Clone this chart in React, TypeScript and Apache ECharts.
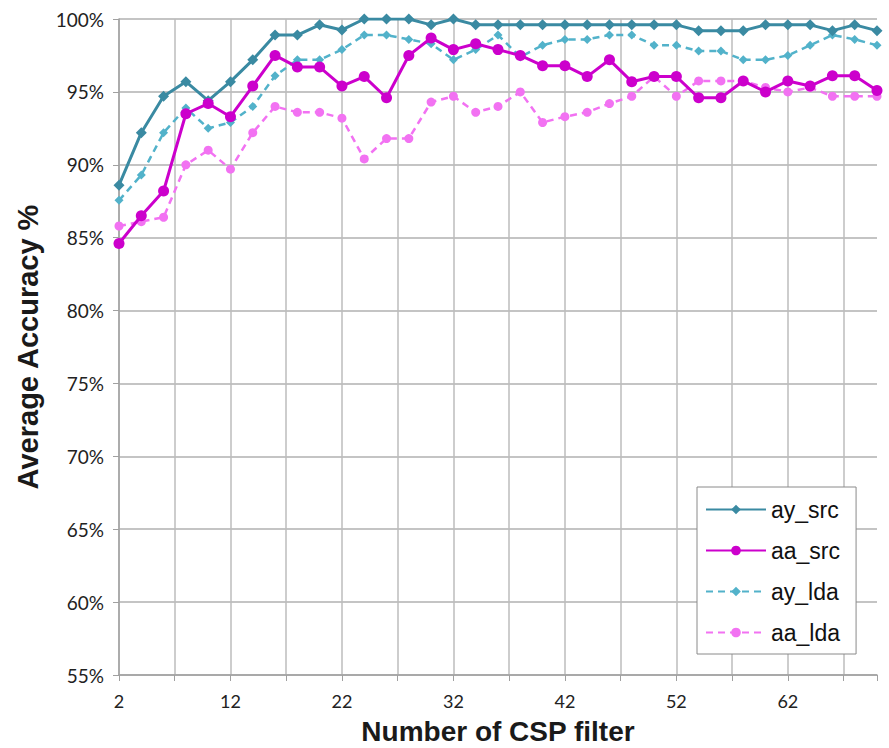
import React, { useEffect, useRef } from "react";
import * as echarts from "echarts";

const filters = [2, 4, 6, 8, 10, 12, 14, 16, 18, 20, 22, 24, 26, 28, 30, 32, 34, 36, 38, 40, 42, 44, 46, 48, 50, 52, 54, 56, 58, 60, 62, 64, 66, 68, 70];

const aySrc = [88.6, 92.2, 94.7, 95.7, 94.4, 95.7, 97.2, 98.9, 98.9, 99.6, 99.25, 100, 100, 100, 99.6, 100, 99.6, 99.6, 99.6, 99.6, 99.6, 99.6, 99.6, 99.6, 99.6, 99.6, 99.2, 99.2, 99.2, 99.6, 99.6, 99.6, 99.2, 99.6, 99.2];
const aaSrc = [84.6, 86.5, 88.2, 93.5, 94.2, 93.3, 95.4, 97.5, 96.7, 96.7, 95.4, 96.05, 94.6, 97.5, 98.7, 97.9, 98.3, 97.9, 97.5, 96.8, 96.8, 96.05, 97.2, 95.7, 96.05, 96.05, 94.6, 94.6, 95.75, 95.0, 95.75, 95.4, 96.1, 96.1, 95.1];
const ayLda = [87.56, 89.3, 92.2, 93.9, 92.5, 92.9, 94.0, 96.1, 97.2, 97.2, 97.9, 98.9, 98.9, 98.6, 98.3, 97.2, 97.9, 98.9, 97.4, 98.2, 98.6, 98.6, 98.9, 98.9, 98.2, 98.2, 97.8, 97.8, 97.2, 97.2, 97.5, 98.2, 98.9, 98.6, 98.2];
const aaLda = [85.8, 86.1, 86.4, 90.0, 91.0, 89.7, 92.2, 94.0, 93.6, 93.6, 93.2, 90.4, 91.8, 91.8, 94.3, 94.7, 93.6, 94.0, 95.0, 92.9, 93.3, 93.6, 94.2, 94.7, 96.05, 94.7, 95.75, 95.75, 95.75, 95.3, 95.0, 95.3, 94.7, 94.7, 94.7];

const seriesNames = ["ay_src", "aa_src", "ay_lda", "aa_lda"];

const pairs = (ys: number[]) => filters.map((x, i) => [x, ys[i]]);

export default function App() {
  const ref = useRef<HTMLDivElement>(null);
  useEffect(() => {
    if (!ref.current) return;
    const chart = echarts.init(ref.current, undefined, { renderer: "svg" });
    const tickFont = "Lato, 'Open Sans', sans-serif";
    const titleFont = "'Liberation Sans', Arial, sans-serif";
    chart.setOption({
      animation: false,
      backgroundColor: "#ffffff",
      grid: { left: 119, right: 12, top: 19, bottom: 73, containLabel: false, outerBoundsMode: "none" },
      xAxis: {
        type: "value",
        min: 2,
        max: 70,
        interval: 5,
        name: "Number of CSP filter",
        nameLocation: "middle",
        nameGap: 42,
        nameTextStyle: { fontFamily: titleFont, fontWeight: "bold", fontSize: 28, lineHeight: 28, color: "#1a1a1a" },
        axisLine: { show: true, lineStyle: { color: "#a0a0a0", width: 1.5 } },
        axisTick: { show: true, length: 6, lineStyle: { color: "#a0a0a0" } },
        axisLabel: {
          formatter: (v: number) => ((v - 2) % 10 === 0 && v < 70 ? String(v) : ""),
          fontFamily: tickFont,
          fontSize: 18,
          color: "#222",
          margin: 17,
        },
        splitLine: { show: true, showMaxLine: false, lineStyle: { color: "#bdbdbd", width: 1.5 } },
      },
      yAxis: {
        type: "value",
        min: 55,
        max: 100,
        interval: 5,
        name: "Average Accuracy %",
        nameLocation: "middle",
        nameGap: 77,
        nameTextStyle: { fontFamily: titleFont, fontWeight: "bold", fontSize: 29, color: "#1a1a1a" },
        axisLine: { show: true, lineStyle: { color: "#a0a0a0", width: 1.5 } },
        axisTick: { show: true, length: 6, lineStyle: { color: "#a0a0a0" } },
        axisLabel: {
          formatter: (v: number) => v + "%",
          fontFamily: tickFont,
          fontSize: 19,
          color: "#222",
          margin: 15,
        },
        splitLine: { show: true, lineStyle: { color: "#b0b0b0", width: 1.5 } },
      },
      legend: {
        orient: "vertical",
        left: 697,
        top: 487,
        data: seriesNames,
        backgroundColor: "#ffffff",
        borderColor: "#8a8a8a",
        borderWidth: 1,
        padding: [11, 16, 10, 8],
        itemWidth: 60,
        itemHeight: 12,
        itemGap: 18,
        textStyle: { fontFamily: titleFont, fontSize: 23, color: "#111" },
      },
      series: [
        {
          name: "ay_src",
          type: "line",
          data: pairs(aySrc),
          symbol: "diamond",
          symbolSize: 11,
          itemStyle: { color: "#3a8aa2" },
          lineStyle: { color: "#3a8aa2", width: 3 },
          z: 4,
        },
        {
          name: "aa_src",
          type: "line",
          data: pairs(aaSrc),
          symbol: "circle",
          symbolSize: 11,
          itemStyle: { color: "#cc00cc" },
          lineStyle: { color: "#cc00cc", width: 3 },
          z: 5,
        },
        {
          name: "ay_lda",
          type: "line",
          data: pairs(ayLda),
          symbol: "diamond",
          symbolSize: 9,
          itemStyle: { color: "#52b2ca" },
          lineStyle: { color: "#52b2ca", width: 2.5, type: [7, 5] },
          z: 3,
        },
        {
          name: "aa_lda",
          type: "line",
          data: pairs(aaLda),
          symbol: "circle",
          symbolSize: 9,
          itemStyle: { color: "#f272f2" },
          lineStyle: { color: "#f272f2", width: 2.5, type: [7, 5] },
          z: 2,
        },
      ],
    });
    return () => chart.dispose();
  }, []);
  return <div ref={ref} style={{ position: "fixed", left: 0, top: 0, width: 889, height: 748 }} />;
}
